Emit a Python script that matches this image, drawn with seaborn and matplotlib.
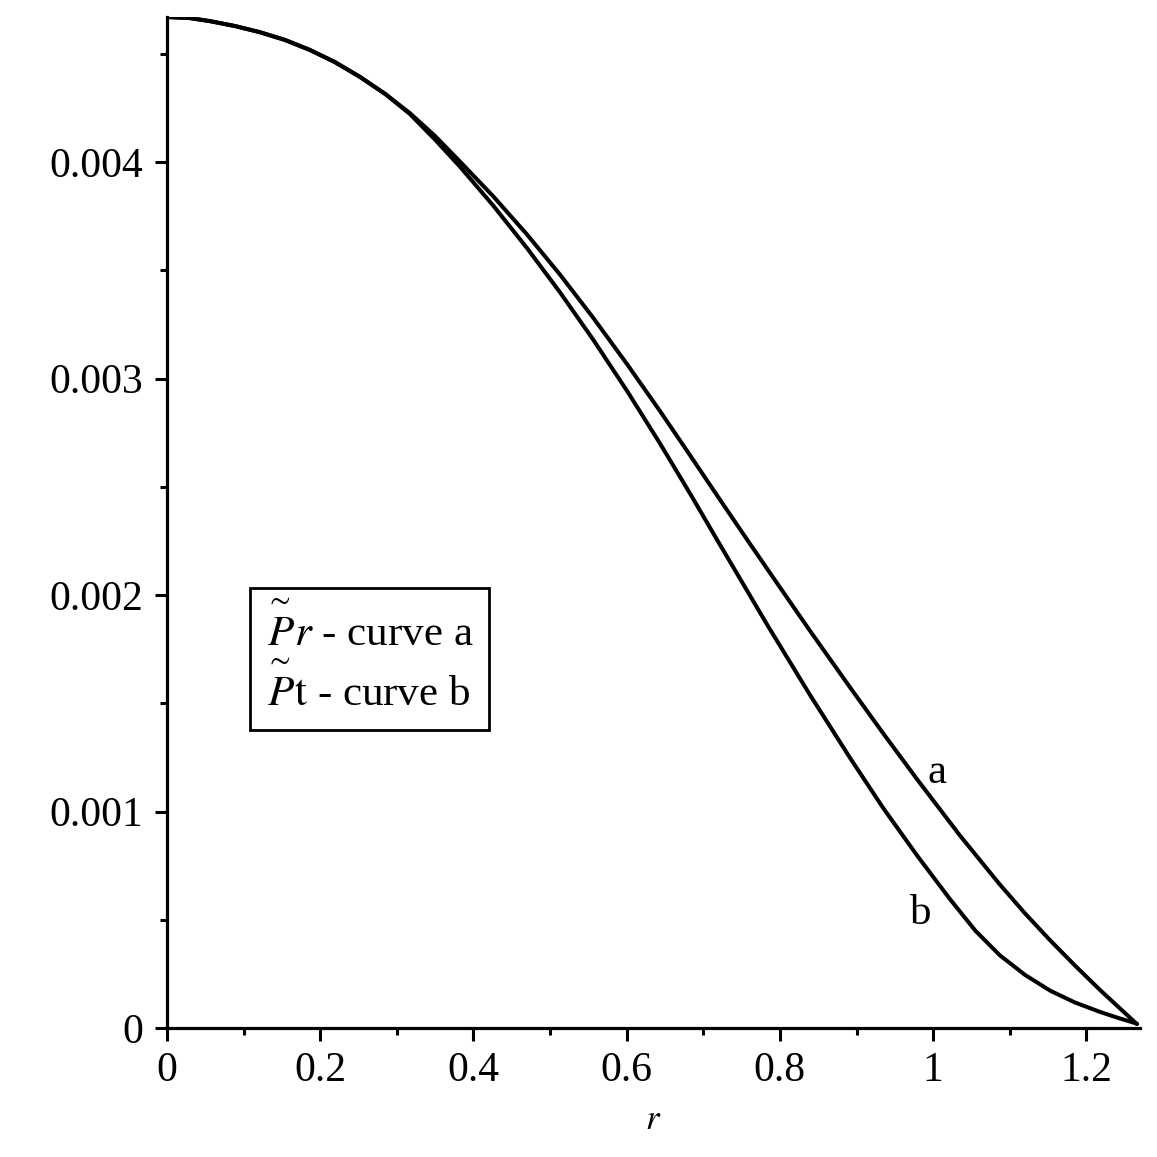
import numpy as np
import pandas as pd
import matplotlib
matplotlib.use("Agg")
import matplotlib.pyplot as plt
import seaborn as sns

# values
r_a = [0.0, 0.030, 0.056, 0.089, 0.121, 0.154, 0.187, 0.219, 0.252, 0.285,
       0.317, 0.350, 0.383, 0.426, 0.470, 0.513, 0.556, 0.601, 0.644, 0.683,
       0.718, 0.761, 0.804, 0.839, 0.892, 0.935, 0.979, 1.035, 1.087, 1.120,
       1.153, 1.185, 1.218, 1.266]
p_a = [0.004670, 0.004665, 0.004651, 0.004628, 0.004600, 0.004564, 0.004517,
       0.004462, 0.004393, 0.004314, 0.004226, 0.004120, 0.004000, 0.003841,
       0.003665, 0.003480, 0.003282, 0.003064, 0.002847, 0.002644, 0.002460,
       0.002236, 0.002015, 0.001836, 0.001571, 0.001360, 0.001149, 0.000889,
       0.000663, 0.000529, 0.000404, 0.000289, 0.000175, 0.000018]

r_b = [0.0, 0.030, 0.056, 0.089, 0.121, 0.154, 0.187, 0.219, 0.252, 0.285,
       0.317, 0.350, 0.383, 0.426, 0.470, 0.513, 0.556, 0.601, 0.644, 0.683,
       0.718, 0.783, 0.839, 0.892, 0.935, 0.979, 1.022, 1.055, 1.087, 1.120,
       1.153, 1.185, 1.218, 1.242, 1.266]
p_b = [0.004670, 0.004665, 0.004651, 0.004628, 0.004600, 0.004564, 0.004517,
       0.004462, 0.004393, 0.004314, 0.004222, 0.004103, 0.003976, 0.003798,
       0.003602, 0.003398, 0.003181, 0.002940, 0.002697, 0.002467, 0.002255,
       0.001865, 0.001540, 0.001245, 0.001015, 0.000797, 0.000595, 0.000450,
       0.000336, 0.000245, 0.000172, 0.000118, 0.000074, 0.000046, 0.000020]

x_ticks = [0, 0.2, 0.4, 0.6, 0.8, 1.0, 1.2]
x_labels = ["0", "0.2", "0.4", "0.6", "0.8", "1", "1.2"]
y_ticks = [0, 0.001, 0.002, 0.003, 0.004]
y_labels = ["0", "0.001", "0.002", "0.003", "0.004"]

sns.set_theme(style="white")
plt.rcParams["font.family"] = ["Liberation Serif", "DejaVu Serif"]
plt.rcParams["mathtext.fontset"] = "stix"
for k in ["text.color", "axes.labelcolor", "xtick.color", "ytick.color"]:
    plt.rcParams[k] = "black"

df = pd.concat([
    pd.DataFrame({"r": r_a, "P": p_a, "curve": "a"}),
    pd.DataFrame({"r": r_b, "P": p_b, "curve": "b"}),
])

fig = plt.figure(figsize=(11.57, 11.57), dpi=100)
ax = fig.add_axes([167/1157, 129/1157, 973/1157, 1011/1157])

sns.lineplot(data=df, x="r", y="P", units="curve", estimator=None,
             color="black", lw=2.9, sort=False, ax=ax)

ax.set_xlim(0, 1.27)
ax.set_ylim(0, 0.00467)
ax.set_xticks(x_ticks)
ax.set_xticklabels(x_labels)
ax.set_yticks(y_ticks)
ax.set_yticklabels(y_labels)
ax.set_xticks(np.arange(0.1, 1.27, 0.2), minor=True)
ax.set_yticks(np.arange(0.0005, 0.0046, 0.001), minor=True)
ax.tick_params(which="major", direction="out", length=9, width=2.2,
               labelsize=30, pad=8, color="black")
ax.tick_params(which="minor", direction="out", length=5, width=2.2,
               color="black")
ax.tick_params(axis="x", which="both", bottom=True)
ax.tick_params(axis="y", which="both", left=True)

for s in ["top", "right"]:
    ax.spines[s].set_visible(False)
for s in ["left", "bottom"]:
    ax.spines[s].set_linewidth(2.3)
    ax.spines[s].set_color("black")

ax.set_xlabel("$r$", fontsize=25, labelpad=10)
ax.set_ylabel("")

ax.text(1.005, 0.00118, "a", fontsize=31, ha="center", va="center")
ax.text(0.984, 0.00053, "b", fontsize=31, ha="center", va="center")

ax.text(0.128, 0.001705,
        "$\\overset{\\sim}{P}r$ - curve a\n$\\overset{\\sim}{P}\\mathrm{t}$ - curve b",
        fontsize=31, ha="left", va="center", linespacing=1.2,
        bbox=dict(boxstyle="square,pad=0.35", fc="white", ec="black", lw=2))

fig.savefig("out.png", dpi=100)
